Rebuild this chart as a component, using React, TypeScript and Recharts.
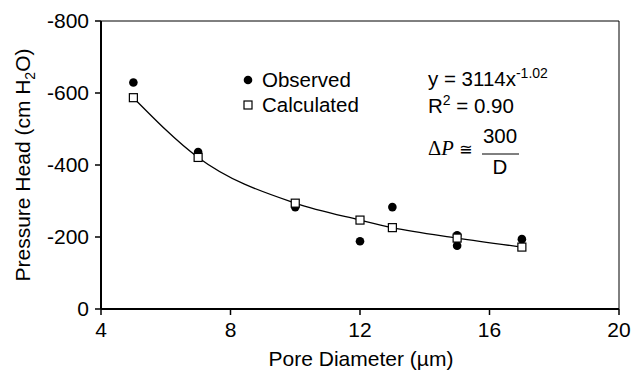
import React from 'react';
import {
  ComposedChart, XAxis, YAxis, Scatter, Line, ReferenceLine, Customized,
} from 'recharts';

const poreDiameter = [5, 7, 10, 12, 13, 15, 15, 17];
const observedHead = [-629, -436, -283, -188, -283, -205, -176, -194];
const calcDiameter = [5, 7, 10, 12, 13, 15, 17];
const calculatedHead = [-587, -421, -294, -247, -226, -197, -172];
const xTicks = [4, 8, 12, 16, 20];
const yTicks = [-800, -600, -400, -200, 0];

const observedData = poreDiameter.map((x, i) => ({ x, y: observedHead[i] }));
const calculatedData = calcDiameter.map((x, i) => ({ x, y: calculatedHead[i] }));

const FONT = '"Liberation Sans", Arial, Helvetica, sans-serif';
const FS = 21;
const FL = 20.5;

const Dot = (props: any) => {
  const { cx, cy } = props;
  return <circle cx={cx} cy={cy} r={4.3} fill="#000" />;
};
const Square = (props: any) => {
  const { cx, cy } = props;
  return <rect x={cx - 4} y={cy - 4} width={8} height={8} fill="#fff" stroke="#000" strokeWidth={1.2} />;
};

const Annotations = () => (
  <g fontFamily={FONT} fill="#000">
    {/* Y axis title */}
    <text transform="translate(30,165) rotate(-90)" textAnchor="middle" fontSize={FS}>
      Pressure Head (cm H<tspan fontSize={14} dy={5}>2</tspan><tspan dy={-5}>O)</tspan>
    </text>
    {/* X axis title */}
    <text x={361} y={366} textAnchor="middle" fontSize={FS}>Pore Diameter (µm)</text>
    {/* Legend */}
    <circle cx={248} cy={80} r={4.3} fill="#000" />
    <text x={262} y={87} fontSize={FL}>Observed</text>
    <rect x={244} y={101} width={8} height={8} fill="#fff" stroke="#000" strokeWidth={1.2} />
    <text x={262} y={112} fontSize={FL}>Calculated</text>
    {/* Equation */}
    <text x={428} y={86} fontSize={FL}>
      y = 3114x<tspan fontSize={14} dy={-8}>-1.02</tspan>
    </text>
    <text x={428} y={113} fontSize={FL}>
      R<tspan fontSize={14} dy={-8}>2</tspan><tspan dy={8}> = 0.90</tspan>
    </text>
    <text x={428} y={155} fontSize={FL} fontFamily='"Liberation Serif", "Times New Roman", serif'>
      Δ<tspan fontStyle="italic">P</tspan>
    </text>
    <text x={459} y={155} fontSize={16} fontFamily='"DejaVu Sans", sans-serif'>≅</text>
    <text x={500} y={143} fontSize={FL} textAnchor="middle">300</text>
    <line x1={482} y1={154} x2={519} y2={154} stroke="#000" strokeWidth={1} />
    <text x={500} y={174} fontSize={FL} textAnchor="middle">D</text>
  </g>
);

export default function App() {
  return (
    <div style={{ position: 'absolute', left: 0, top: 0 }}>
      <ComposedChart
        width={634}
        height={372}
        margin={{ top: 21, right: 15, left: 0, bottom: 33 }}
      >
        <XAxis
          type="number"
          dataKey="x"
          domain={[4, 20]}
          ticks={xTicks}
          allowDataOverflow
          axisLine={{ stroke: '#000', strokeWidth: 2 }}
          tickLine={{ stroke: '#000', strokeWidth: 1.5 }}
          tickSize={6}
          tickMargin={7}
          height={30}
          tick={{ fill: '#000', fontSize: FS, fontFamily: FONT }}
        />
        <YAxis
          type="number"
          dataKey="y"
          domain={[-800, 0]}
          ticks={yTicks}
          reversed
          allowDataOverflow
          width={101}
          axisLine={{ stroke: '#000', strokeWidth: 2 }}
          tickLine={{ stroke: '#000', strokeWidth: 1.5 }}
          tickSize={6}
          tickMargin={6}
          tick={{ fill: '#000', fontSize: FS, fontFamily: FONT }}
        />
        <ReferenceLine y={-800} stroke="#000" strokeWidth={1} />
        <ReferenceLine x={20} stroke="#000" strokeWidth={1} />
        <Line
          data={calculatedData}
          dataKey="y"
          type="monotone"
          stroke="#000"
          strokeWidth={1.3}
          dot={false}
          activeDot={false}
          isAnimationActive={false}
        />
        <Scatter data={observedData} dataKey="y" shape={Dot} isAnimationActive={false} />
        <Scatter data={calculatedData} dataKey="y" shape={Square} isAnimationActive={false} />
        <Customized component={Annotations} />
      </ComposedChart>
    </div>
  );
}
